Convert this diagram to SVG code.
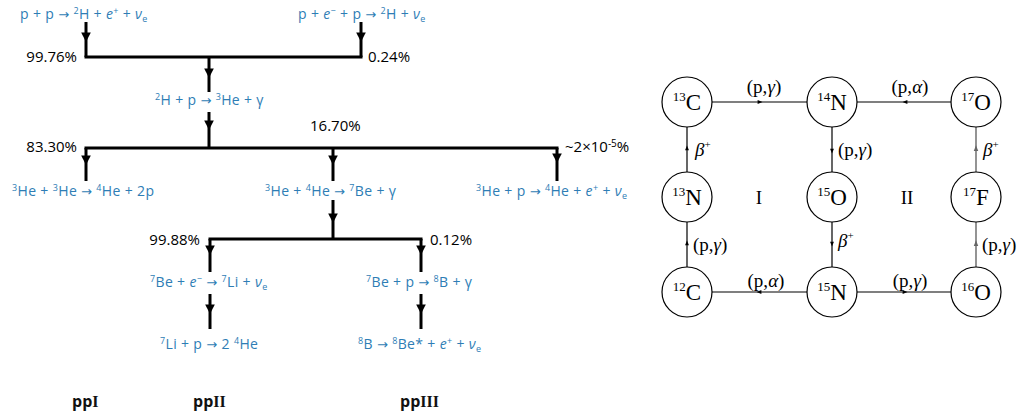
<svg xmlns="http://www.w3.org/2000/svg" width="1024" height="416" viewBox="0 0 1024 416">
<defs>
<marker id="ah" viewBox="0 0 10 10" refX="10" refY="5" markerWidth="3.2" markerHeight="3.2" orient="auto" markerUnits="strokeWidth">
<path d="M0,0 L10,5 L0,10 Z" fill="#000"/>
</marker>
<marker id="as" viewBox="0 0 10 10" refX="7" refY="5" markerWidth="6" markerHeight="4" orient="auto" markerUnits="strokeWidth">
<path d="M0,1 L10,5 L0,9 Z" fill="#000"/>
</marker>
<marker id="asg" viewBox="0 0 10 10" refX="7" refY="5" markerWidth="6" markerHeight="4" orient="auto" markerUnits="strokeWidth">
<path d="M0,1 L10,5 L0,9 Z" fill="#666"/>
</marker>
</defs>
<style>
.rx{font-family:"Open Sans","Noto Sans",sans-serif;font-size:14px;letter-spacing:0.35px;fill:#2e7db5}
.ar{font-family:"DejaVu Sans",sans-serif;font-size:13px}
.pc{font-family:"Open Sans","Noto Sans",sans-serif;font-size:15px;fill:#000}
.lb{font-family:"Open Sans","Noto Sans",sans-serif;font-size:16px;font-weight:bold;fill:#111}
.sr{font-family:"Liberation Serif","Times New Roman",serif}
.thick{stroke:#000;stroke-width:3;fill:none;stroke-linecap:square}
.tarr{stroke:#000;stroke-width:3;fill:none;marker-mid:url(#ah)}
.thin{stroke:#000;stroke-width:1.2;fill:none;marker-mid:url(#as)}
.thing{stroke:#666;stroke-width:1.4;fill:none;marker-mid:url(#asg)}
.nd{fill:#fff;stroke:#000;stroke-width:1.2}
.el{font-family:"Liberation Serif","Times New Roman",serif;font-size:23px;fill:#000}
.lab{font-family:"Liberation Serif","Times New Roman",serif;font-size:19px;fill:#000}
</style>

<g id="pp-connectors">
<path class="tarr" d="M86,22 L86,42 L86,57"/>
<path class="tarr" d="M361,22 L361,42 L361,57"/>
<path class="thick" d="M86,57 H361"/>
<path class="tarr" d="M209,57 L209,78 L209,92"/>
<path class="tarr" d="M209,112 L209,130 L209,148"/>
<path class="thick" d="M86,148 H557"/>
<path class="tarr" d="M86,148 L86,165 L86,181"/>
<path class="tarr" d="M333,148 L333,165 L333,181"/>
<path class="tarr" d="M557,148 L557,163 L557,181"/>
<path class="tarr" d="M333,200 L333,223 L333,239"/>
<path class="thick" d="M210,239 H421"/>
<path class="tarr" d="M210,239 L210,255 L210,272"/>
<path class="tarr" d="M421,239 L421,255 L421,272"/>
<path class="tarr" d="M210,294 L210,314 L210,329"/>
<path class="tarr" d="M421,294 L421,314 L421,329"/>
</g>

<g id="pp-reactions">
<text class="rx" x="20" y="19">p + p <tspan class="ar">→</tspan> <tspan font-size="9" dy="-5">2</tspan><tspan dy="5">H + </tspan><tspan font-style="italic">e</tspan><tspan font-size="9" dy="-5">+</tspan><tspan dy="5"> + </tspan><tspan font-style="italic">ν</tspan><tspan font-size="9" dy="3">e</tspan></text>
<text class="rx" x="298" y="19">p + <tspan font-style="italic">e</tspan><tspan font-size="9" dy="-5">−</tspan><tspan dy="5"> + p </tspan><tspan class="ar">→</tspan> <tspan font-size="9" dy="-5">2</tspan><tspan dy="5">H + </tspan><tspan font-style="italic">ν</tspan><tspan font-size="9" dy="3">e</tspan></text>
<text class="rx" x="155" y="105"><tspan font-size="9" dy="-5">2</tspan><tspan dy="5">H + p </tspan><tspan class="ar">→</tspan> <tspan font-size="9" dy="-5">3</tspan><tspan dy="5">He + γ</tspan></text>
<text class="rx" x="12" y="196"><tspan font-size="9" dy="-5">3</tspan><tspan dy="5">He + </tspan><tspan font-size="9" dy="-5">3</tspan><tspan dy="5">He  </tspan><tspan class="ar">→</tspan> <tspan font-size="9" dy="-5">4</tspan><tspan dy="5">He + 2p</tspan></text>
<text class="rx" x="265" y="196"><tspan font-size="9" dy="-5">3</tspan><tspan dy="5">He + </tspan><tspan font-size="9" dy="-5">4</tspan><tspan dy="5">He  </tspan><tspan class="ar">→</tspan> <tspan font-size="9" dy="-5">7</tspan><tspan dy="5">Be + γ</tspan></text>
<text class="rx" x="476" y="196"><tspan font-size="9" dy="-5">3</tspan><tspan dy="5">He + p </tspan><tspan class="ar">→</tspan> <tspan font-size="9" dy="-5">4</tspan><tspan dy="5">He + </tspan><tspan font-style="italic">e</tspan><tspan font-size="9" dy="-5">+</tspan><tspan dy="5"> + </tspan><tspan font-style="italic">ν</tspan><tspan font-size="9" dy="3">e</tspan></text>
<text class="rx" x="150" y="287"><tspan font-size="9" dy="-5">7</tspan><tspan dy="5">Be + </tspan><tspan font-style="italic">e</tspan><tspan font-size="9" dy="-5">−</tspan><tspan dy="5"> </tspan><tspan class="ar">→</tspan> <tspan font-size="9" dy="-5">7</tspan><tspan dy="5">Li + </tspan><tspan font-style="italic">ν</tspan><tspan font-size="9" dy="3">e</tspan></text>
<text class="rx" x="366" y="287"><tspan font-size="9" dy="-5">7</tspan><tspan dy="5">Be + p </tspan><tspan class="ar">→</tspan> <tspan font-size="9" dy="-5">8</tspan><tspan dy="5">B + γ</tspan></text>
<text class="rx" x="160" y="349"><tspan font-size="9" dy="-5">7</tspan><tspan dy="5">Li + p </tspan><tspan class="ar">→</tspan> 2 <tspan font-size="9" dy="-5">4</tspan><tspan dy="5">He</tspan></text>
<text class="rx" x="358" y="349"><tspan font-size="9" dy="-5">8</tspan><tspan dy="5">B </tspan><tspan class="ar">→</tspan> <tspan font-size="9" dy="-5">8</tspan><tspan dy="5">Be* + </tspan><tspan font-style="italic">e</tspan><tspan font-size="9" dy="-5">+</tspan><tspan dy="5"> + </tspan><tspan font-style="italic">ν</tspan><tspan font-size="9" dy="3">e</tspan></text>
</g>

<g id="pp-branches">
<text class="pc" x="77" y="62" text-anchor="end">99.76%</text>
<text class="pc" x="368" y="62">0.24%</text>
<text class="pc" x="310" y="131">16.70%</text>
<text class="pc" x="77" y="152" text-anchor="end">83.30%</text>
<text class="pc" x="565" y="152">~2×10<tspan font-size="10" dy="-5">-5</tspan><tspan dy="5">%</tspan></text>
<text class="pc" x="200" y="245" text-anchor="end">99.88%</text>
<text class="pc" x="430" y="245">0.12%</text>
</g>

<g id="pp-labels">
<text class="lb" x="72" y="407">pp<tspan class="sr">I</tspan></text>
<text class="lb" x="193" y="407">pp<tspan class="sr">II</tspan></text>
<text class="lb" x="400" y="407">pp<tspan class="sr">III</tspan></text>
</g>

<g id="cno-connectors">
<path class="thin" d="M712,102 L761,102 L807,102"/>
<path class="thin" d="M952,102 L904,102 L857,102"/>
<path class="thin" d="M687,172 L687,147 L687,127"/>
<path class="thin" d="M832,127 L832,152 L832,172"/>
<path class="thing" d="M976,172 L976,147 L976,127"/>
<path class="thin" d="M687,267 L687,242 L687,222"/>
<path class="thin" d="M832,222 L832,245 L832,267"/>
<path class="thing" d="M976,267 L976,242 L976,222"/>
<path class="thin" d="M807,292 L758,292 L712,292"/>
<path class="thin" d="M857,292 L906,292 L952,292"/>
</g>

<g id="cno-labels">
<text class="lab" x="764" y="93" text-anchor="middle">(p,<tspan font-style="italic">γ</tspan>)</text>
<text class="lab" x="910" y="93" text-anchor="middle">(p,<tspan font-style="italic">α</tspan>)</text>
<text class="lab" x="695" y="156"><tspan font-style="italic">β</tspan><tspan font-size="11" dy="-8">+</tspan></text>
<text class="lab" x="838" y="156">(p,<tspan font-style="italic">γ</tspan>)</text>
<text class="lab" x="983" y="156"><tspan font-style="italic">β</tspan><tspan font-size="11" dy="-8">+</tspan></text>
<text class="lab" x="693" y="251">(p,<tspan font-style="italic">γ</tspan>)</text>
<text class="lab" x="838" y="247"><tspan font-style="italic">β</tspan><tspan font-size="11" dy="-8">+</tspan></text>
<text class="lab" x="982" y="251">(p,<tspan font-style="italic">γ</tspan>)</text>
<text class="lab" x="766" y="287" text-anchor="middle">(p,<tspan font-style="italic">α</tspan>)</text>
<text class="lab" x="910" y="287" text-anchor="middle">(p,<tspan font-style="italic">γ</tspan>)</text>
<text class="lab" x="759" y="204" text-anchor="middle">I</text>
<text class="lab" x="907" y="204" text-anchor="middle">II</text>
</g>

<g id="n-13C"><circle class="nd" cx="687" cy="102" r="25"/><text class="el" x="687" y="110" text-anchor="middle"><tspan font-size="13" dy="-9">13</tspan><tspan dy="9">C</tspan></text></g>
<g id="n-14N"><circle class="nd" cx="832" cy="102" r="25"/><text class="el" x="832" y="110" text-anchor="middle"><tspan font-size="13" dy="-9">14</tspan><tspan dy="9">N</tspan></text></g>
<g id="n-17O"><circle class="nd" cx="976" cy="102" r="25"/><text class="el" x="976" y="110" text-anchor="middle"><tspan font-size="13" dy="-9">17</tspan><tspan dy="9">O</tspan></text></g>
<g id="n-13N"><circle class="nd" cx="687" cy="197" r="25"/><text class="el" x="687" y="205" text-anchor="middle"><tspan font-size="13" dy="-9">13</tspan><tspan dy="9">N</tspan></text></g>
<g id="n-15O"><circle class="nd" cx="832" cy="197" r="25"/><text class="el" x="832" y="205" text-anchor="middle"><tspan font-size="13" dy="-9">15</tspan><tspan dy="9">O</tspan></text></g>
<g id="n-17F"><circle class="nd" cx="976" cy="197" r="25"/><text class="el" x="976" y="205" text-anchor="middle"><tspan font-size="13" dy="-9">17</tspan><tspan dy="9">F</tspan></text></g>
<g id="n-12C"><circle class="nd" cx="687" cy="292" r="25"/><text class="el" x="687" y="300" text-anchor="middle"><tspan font-size="13" dy="-9">12</tspan><tspan dy="9">C</tspan></text></g>
<g id="n-15N"><circle class="nd" cx="832" cy="292" r="25"/><text class="el" x="832" y="300" text-anchor="middle"><tspan font-size="13" dy="-9">15</tspan><tspan dy="9">N</tspan></text></g>
<g id="n-16O"><circle class="nd" cx="976" cy="292" r="25"/><text class="el" x="976" y="300" text-anchor="middle"><tspan font-size="13" dy="-9">16</tspan><tspan dy="9">O</tspan></text></g>
</svg>
